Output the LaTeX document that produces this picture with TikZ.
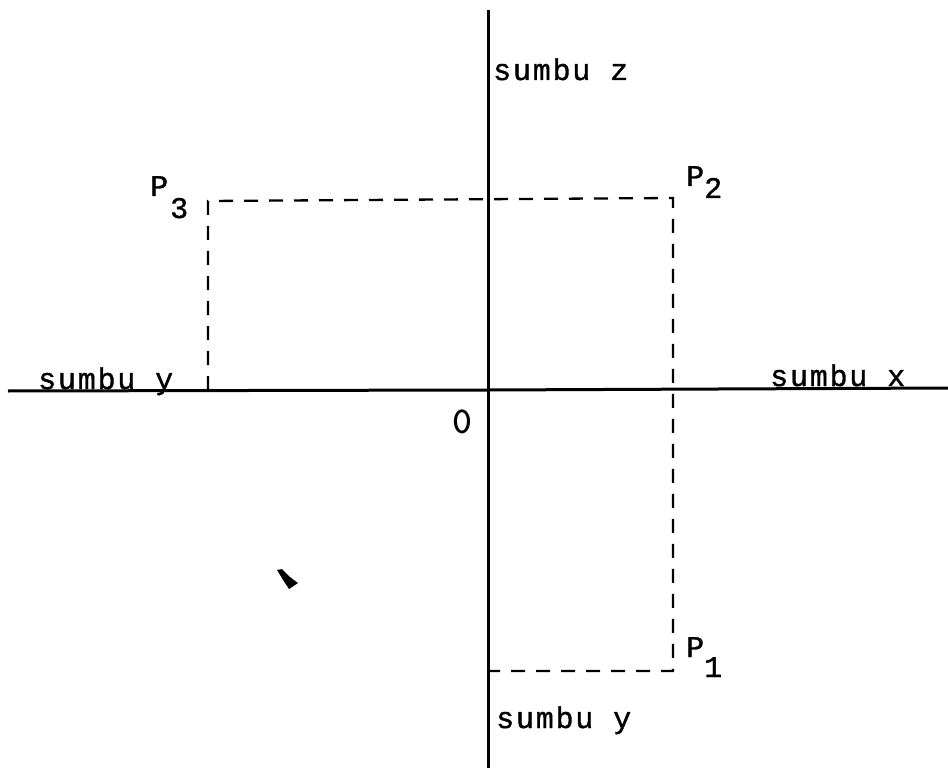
\documentclass[tikz,border=0pt]{standalone}
\usepackage{fontspec}
\newfontfamily\twfont[LetterSpace=6, FakeBold=1.2]{Liberation Mono}
\begin{document}
\begin{tikzpicture}[x=1pt,y=1pt,
  axis/.style={line width=3pt},
  guide/.style={line width=2.3pt, dash pattern=on 14pt off 11pt},
  lbl/.style={font=\twfont\fontsize{30}{30}\selectfont, inner sep=0pt}]
\useasboundingbox (0,0) rectangle (948,-770);
% axes
\coordinate (zt) at (488,-10);
\coordinate (zb) at (488,-768);
\coordinate (xl) at (8,-391);
\coordinate (xr) at (948,-388);
\coordinate (O) at (488,-390);
\draw[axis] (zt) -- (zb);
\draw[axis] (xl) -- (O) -- (xr);
% points
\coordinate (P1) at (673,-671);
\coordinate (P2) at (673,-198);
\coordinate (P3) at (208,-201);
\coordinate (P3x) at (208,-390);
\coordinate (P1z) at (490,-671);
\draw[guide] (P3x) -- (P3) -- (P2) -- (P1) -- (P1z);
% labels
\node[lbl, anchor=base west] (lz) at (493,-80) {sumbu z};
\node[lbl, anchor=base west] (lyl) at (38,-389) {sumbu y};
\node[lbl, anchor=base west] (lxr) at (770,-386) {sumbu x};
\node[lbl, anchor=base west] (lyb) at (496,-728) {sumbu y};
\node[lbl, font=\ttfamily\bfseries\fontsize{38}{38}\selectfont, anchor=base west] (l0) at (452,-433) {0};
\node[lbl, anchor=base west] (l3) at (150,-196) {P\hspace{2pt}\raisebox{-22pt}{3}};
\node[lbl, anchor=base west] (l2) at (686,-186) {P\raisebox{-12pt}{2}};
\node[lbl, anchor=base west] (l1) at (686,-657) {P\raisebox{-20pt}{1}};
% stray mark
\fill (277,-570) -- (282,-569) -- (290,-577) -- (298,-583) -- (289,-589) -- (285,-583) -- cycle;
\end{tikzpicture}
\end{document}
